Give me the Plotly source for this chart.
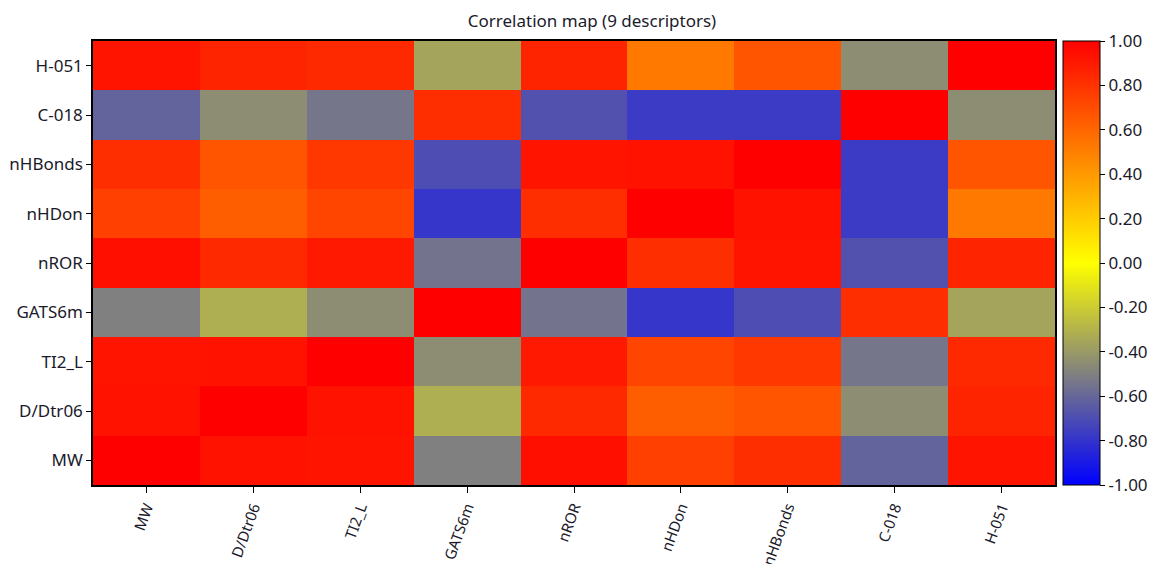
import plotly.graph_objects as go

labels = ["MW", "D/Dtr06", "TI2_L", "GATS6m", "nROR", "nHDon", "nHBonds", "C-018", "H-051"]

row_MW      = [1.00, 0.93, 0.92, -0.50, 0.94, 0.75, 0.82, -0.61, 0.92]
row_DDtr06  = [0.93, 1.00, 0.93, -0.32, 0.84, 0.63, 0.67, -0.45, 0.86]
row_TI2_L   = [0.92, 0.93, 1.00, -0.45, 0.90, 0.73, 0.78, -0.54, 0.84]
row_GATS6m  = [-0.50, -0.32, -0.45, 1.00, -0.55, -0.79, -0.70, 0.82, -0.36]
row_nROR    = [0.94, 0.84, 0.90, -0.55, 1.00, 0.82, 0.92, -0.68, 0.86]
row_nHDon   = [0.75, 0.63, 0.73, -0.79, 0.82, 1.00, 0.93, -0.77, 0.53]
row_nHBonds = [0.82, 0.67, 0.78, -0.70, 0.92, 0.93, 1.00, -0.77, 0.67]
row_C018    = [-0.61, -0.45, -0.54, 0.82, -0.68, -0.77, -0.77, 1.00, -0.45]
row_H051    = [0.92, 0.86, 0.84, -0.36, 0.86, 0.53, 0.67, -0.45, 1.00]

z = [row_MW, row_DDtr06, row_TI2_L, row_GATS6m, row_nROR,
     row_nHDon, row_nHBonds, row_C018, row_H051]

colorscale = [
    [0.0, "rgb(0,0,255)"],
    [0.25, "rgb(128,128,128)"],
    [0.5, "rgb(255,255,0)"],
    [1.0, "rgb(255,0,0)"],
]

tick_vals = [-1.0, -0.8, -0.6, -0.4, -0.2, 0.0, 0.2, 0.4, 0.6, 0.8, 1.0]

font_family = "Noto Sans, Open Sans, sans-serif"
text_color = "#1a1a2a"
fs = 17
fs_x = 15

# page body has an 8px default margin, so the figure is sized/offset to compensate
W, H = 1152, 556

fig = go.Figure(go.Heatmap(
    z=z, x=labels, y=labels,
    zmin=-1, zmax=1,
    colorscale=colorscale,
    colorbar=dict(
        x=1.0083, xanchor="left", xpad=0,
        y=0.5, yanchor="middle", len=1.0, lenmode="fraction",
        ypad=0,
        thickness=37,
        outlinecolor="black", outlinewidth=1,
        tickvals=tick_vals,
        ticktext=[f"{v:.2f}" for v in tick_vals],
        ticks="outside", ticklen=5, tickcolor="black",
        tickfont=dict(size=fs, color=text_color, family=font_family),
    ),
))

fig.update_layout(
    width=W, height=H,
    margin=dict(l=85, r=105, t=33, b=79, autoexpand=False),
    paper_bgcolor="white", plot_bgcolor="white",
    title=dict(
        text="Correlation map (9 descriptors)",
        x=584 / W, xref="container", xanchor="center",
        y=1 - 13 / H, yref="container", yanchor="middle",
        font=dict(size=fs, color=text_color, family=font_family),
    ),
    font=dict(family=font_family, color=text_color),
)

fig.update_xaxes(
    type="category",
    tickangle=-70,
    ticks="outside", ticklen=6, tickcolor="black",
    tickfont=dict(size=fs_x, color=text_color, family=font_family),
    showline=True, linecolor="black", linewidth=1.5, mirror=True,
    showgrid=False, zeroline=False, automargin=False,
)
fig.update_yaxes(
    type="category",
    ticks="outside", ticklen=5, tickcolor="black",
    tickfont=dict(size=fs, color=text_color, family=font_family),
    showline=True, linecolor="black", linewidth=1.5, mirror=True,
    showgrid=False, zeroline=False, automargin=False,
)

fig.write_html("out.html")
